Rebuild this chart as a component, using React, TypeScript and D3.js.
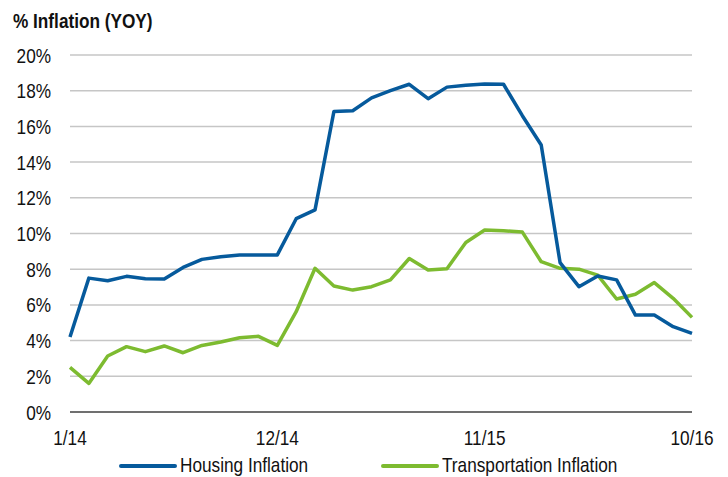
import React, { useEffect, useRef } from 'react';
import * as d3 from 'd3';

// monthly, 1/14 .. 10/16
const months = d3.range(34);
const tickMonths = [0, 11, 22, 33];
const tickLabels = ['1/14', '12/14', '11/15', '10/16'];
const yTicks = [0, 2, 4, 6, 8, 10, 12, 14, 16, 18, 20];

const housing = [
  4.2, 7.5, 7.35, 7.6, 7.47, 7.45, 8.1, 8.55, 8.7, 8.8, 8.8, 8.8,
  10.83, 11.32, 16.83, 16.88, 17.6, 18.0, 18.36, 17.55, 18.2, 18.3, 18.37, 18.36,
  16.6, 14.96, 8.37, 7.02, 7.62, 7.4, 5.43, 5.43, 4.78, 4.4,
];
const transport = [
  2.5, 1.6, 3.14, 3.66, 3.38, 3.7, 3.32, 3.73, 3.92, 4.16, 4.24, 3.73,
  5.62, 8.05, 7.06, 6.83, 7.02, 7.4, 8.6, 7.96, 8.03, 9.5, 10.2, 10.16,
  10.08, 8.42, 8.05, 8.0, 7.67, 6.33, 6.6, 7.25, 6.37, 5.3,
];

const series = [
  { name: 'Housing Inflation', values: housing, color: '#065A9C' },
  { name: 'Transportation Inflation', values: transport, color: '#7DBB30' },
];

const width = 728;
const height = 477;
const margin = { top: 55, right: 36, bottom: 65, left: 70 };
const font = '"Liberation Sans", Arial, sans-serif';
const squeeze = 0.82; // narrow look of the original font

function App() {
  const ref = useRef<SVGSVGElement>(null);

  useEffect(() => {
    const svg = d3.select(ref.current);
    svg.selectAll('*').remove();

    const x = d3.scaleLinear().domain([0, 33]).range([margin.left, width - margin.right]);
    const y = d3.scaleLinear().domain([0, 20]).range([height - margin.bottom, margin.top]);

    const label = (px: number, py: number, txt: string, anchor = 'start', bold = false) =>
      svg.append('text')
        .attr('transform', `translate(${px},${py}) scale(${squeeze},1)`)
        .attr('text-anchor', anchor)
        .attr('font-family', font)
        .attr('font-weight', bold ? 'bold' : 'normal')
        .attr('font-size', 21)
        .attr('fill', '#111')
        .text(txt);

    label(13, 28, '% Inflation (YOY)', 'start', true);

    // gridlines
    svg.append('g')
      .selectAll('line')
      .data(yTicks.filter((d) => d > 0))
      .join('line')
      .attr('x1', x(0))
      .attr('x2', x(33))
      .attr('y1', (d) => y(d))
      .attr('y2', (d) => y(d))
      .attr('stroke', '#c6c6c6')
      .attr('stroke-width', 1.5);

    svg.append('line')
      .attr('x1', x(0))
      .attr('x2', x(33))
      .attr('y1', y(0))
      .attr('y2', y(0))
      .attr('stroke', '#404040')
      .attr('stroke-width', 1.5);

    yTicks.forEach((d) => label(51, y(d) + 7.5, `${d}%`, 'end'));
    tickMonths.forEach((d, i) => label(x(d), 445, tickLabels[i], 'middle'));

    const line = d3.line<number>()
      .x((d, i) => x(months[i]))
      .y((d) => y(d));

    series.slice().reverse().forEach((s) => {
      svg.append('path')
        .datum(s.values)
        .attr('d', line)
        .attr('fill', 'none')
        .attr('stroke', s.color)
        .attr('stroke-width', 3.5)
        .attr('stroke-linejoin', 'round');
    });

    // legend
    const legendX = [121, 383];
    series.forEach((s, i) => {
      svg.append('line')
        .attr('x1', legendX[i])
        .attr('x2', legendX[i] + 54)
        .attr('y1', 466)
        .attr('y2', 466)
        .attr('stroke', s.color)
        .attr('stroke-width', 4)
        .attr('stroke-linecap', 'round');
      label(legendX[i] + 59, 472, s.name);
    });
  }, []);

  return (
    <svg
      ref={ref}
      width={width}
      height={height}
      style={{ position: 'absolute', left: 0, top: 0, background: '#fff' }}
    />
  );
}

export default App;
